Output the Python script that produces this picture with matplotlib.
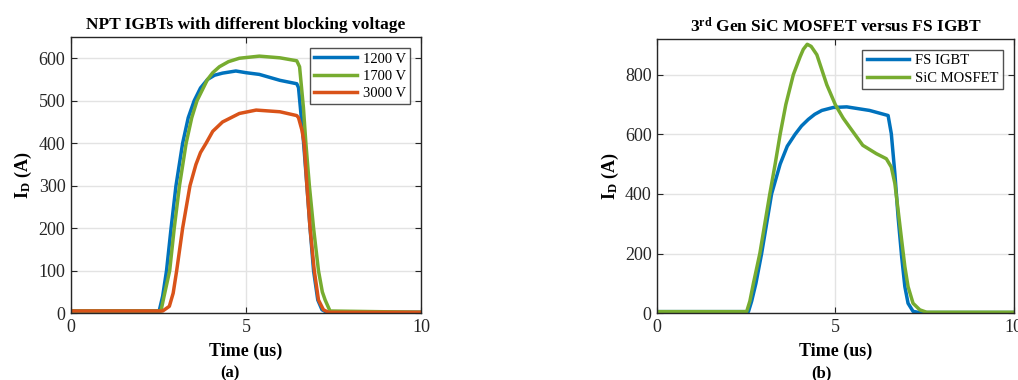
import matplotlib
matplotlib.use("Agg")
import matplotlib.pyplot as plt

plt.rcParams['font.family'] = ['Liberation Serif', 'DejaVu Serif']
plt.rcParams['mathtext.fontset'] = 'custom'
plt.rcParams['mathtext.rm'] = 'Liberation Serif'
plt.rcParams['mathtext.it'] = 'Liberation Serif:italic'
plt.rcParams['mathtext.bf'] = 'Liberation Serif:bold'

# ---------------- data (a) ----------------
t_1200 = [0, 2.52, 2.62, 2.73, 2.86, 3.0, 3.19, 3.35, 3.52, 3.7, 3.90, 4.1, 4.33, 4.71, 5.0, 5.38, 5.97,
          6.45, 6.50, 6.64, 6.74, 6.83, 6.93, 7.05, 7.17, 7.3, 10]
i_1200 = [5, 5, 40, 100, 200, 300, 400, 460, 500, 530, 550, 560, 565, 570, 566, 562, 548,
          540, 531, 406, 300, 200, 100, 31, 8, 2, 2]
t_1700 = [0, 2.57, 2.66, 2.82, 2.95, 3.10, 3.29, 3.45, 3.60, 3.78, 3.90, 4.05, 4.24, 4.5, 4.81, 5.38, 5.97,
          6.45, 6.53, 6.64, 6.71, 6.81, 6.93, 7.07, 7.18, 7.26, 7.40, 10]
i_1700 = [5, 5, 40, 100, 200, 300, 400, 460, 500, 530, 550, 566, 580, 592, 600, 605, 601,
          594, 580, 484, 400, 300, 200, 100, 50, 31, 5, 2]
t_3000 = [0, 2.62, 2.81, 2.92, 3.02, 3.19, 3.40, 3.57, 3.70, 3.86, 4.05, 4.33, 4.81, 5.29, 5.97, 6.45,
          6.50, 6.60, 6.66, 6.74, 6.83, 6.95, 7.07, 7.21, 7.35, 10]
i_3000 = [5, 5, 16, 47, 100, 200, 300, 350, 378, 400, 428, 450, 470, 478, 474, 465,
          460, 430, 400, 300, 200, 100, 31, 8, 2, 2]

# ---------------- data (b) ----------------
t_igbt = [0, 2.56, 2.65, 2.77, 2.93, 3.07, 3.21, 3.45, 3.65, 3.87, 4.05, 4.24, 4.42, 4.62, 4.94, 5.32, 5.96,
          6.48, 6.57, 6.67, 6.76, 6.86, 6.95, 7.04, 7.18, 7.35, 10]
i_igbt = [5, 5, 40, 100, 200, 300, 400, 500, 560, 600, 628, 650, 667, 680, 690, 692, 680,
          663, 602, 468, 323, 190, 89, 33, 6, 2, 2]
t_sic = [0, 2.51, 2.60, 2.70, 2.88, 3.02, 3.16, 3.31, 3.45, 3.61, 3.82, 4.01, 4.10, 4.21, 4.32,
         4.48, 4.76, 5.0, 5.22, 5.40, 5.77, 6.15, 6.43, 6.57, 6.67, 6.76, 6.86, 6.95, 7.04,
         7.18, 7.37, 7.56, 10]
i_sic = [5, 5, 40, 100, 200, 300, 400, 500, 600, 700, 800, 860, 885, 902, 895,
         867, 766, 699, 654, 624, 563, 535, 518, 490, 435, 346, 245, 156, 89,
         33, 11, 3, 3]

xticks = [0, 5, 10]
yticks_a = [0, 100, 200, 300, 400, 500, 600]
yticks_b = [0, 200, 400, 600, 800]

BLUE = '#0072BD'
ORANGE = '#D95319'
GREEN = '#77AC30'
AXC = '#262626'

fig = plt.figure(figsize=(10.18, 3.8), dpi=100)
ax1 = fig.add_axes([0.0697, 0.176, 0.3439, 0.7266])
ax2 = fig.add_axes([0.6456, 0.176, 0.3500, 0.7216])


def style(ax, yt, ylim):
    ax.set_xlim(0, 10)
    ax.set_ylim(*ylim)
    ax.set_xticks(xticks)
    ax.set_yticks(yt)
    ax.grid(True, color='#e3e3e3', linewidth=1.0)
    ax.set_axisbelow(True)
    for s in ax.spines.values():
        s.set_color(AXC)
        s.set_linewidth(1.0)
    ax.tick_params(direction='in', top=True, right=True, length=4, width=0.8,
                   colors=AXC, labelsize=13, labelcolor='#262626', pad=4)
    ax.set_xlabel('Time (us)', fontsize=13, fontweight='bold', labelpad=5)
    ax.set_ylabel(r'I$_\mathbf{D}$ (A)', fontsize=13, fontweight='bold', labelpad=3)


def legend(ax):
    leg = ax.legend(loc='upper right', fontsize=10.5, frameon=True, fancybox=False,
                    handlelength=2.9, borderaxespad=0.75, labelspacing=0.28,
                    handletextpad=0.4, borderpad=0.3)
    leg.get_frame().set_edgecolor(AXC)
    leg.get_frame().set_linewidth(1.0)
    return leg


lw = 2.5
ax1.plot(t_1200, i_1200, color=BLUE, lw=lw, label='1200 V')
ax1.plot(t_1700, i_1700, color=GREEN, lw=lw, label='1700 V')
ax1.plot(t_3000, i_3000, color=ORANGE, lw=lw, label='3000 V')
style(ax1, yticks_a, (0, 650))
ax1.set_title('NPT IGBTs with different blocking voltage', fontsize=12.5, fontweight='bold', pad=6)
legend(ax1)

ax2.plot(t_igbt, i_igbt, color=BLUE, lw=lw, label='FS IGBT')
ax2.plot(t_sic, i_sic, color=GREEN, lw=lw, label='SiC MOSFET')
style(ax2, yticks_b, (0, 920))
ax2.set_title(r'3$^{\mathbf{rd}}$ Gen SiC MOSFET versus FS IGBT', fontsize=12.5, fontweight='bold', pad=5)
legend(ax2)

fig.text(0.226, 0.018, '(a)', fontsize=12, fontweight='bold', ha='center', va='center')
fig.text(0.807, 0.018, '(b)', fontsize=12, fontweight='bold', ha='center', va='center')

fig.savefig('out.png', dpi=100)
